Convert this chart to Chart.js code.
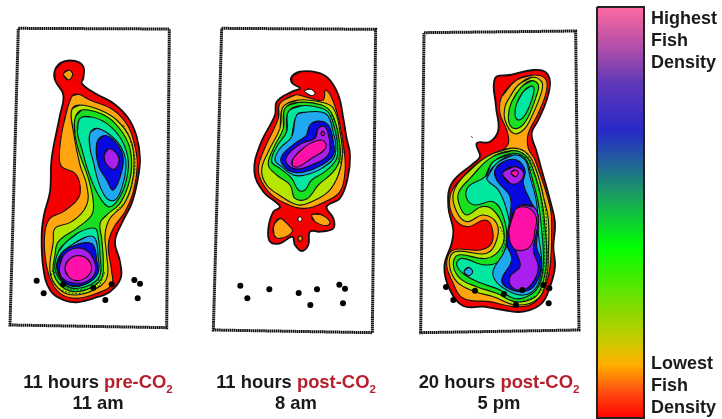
<!DOCTYPE html>
<html>
<head>
<meta charset="utf-8">
<script src="https://cdn.jsdelivr.net/npm/chart.js@4"></script>
<style>
  html, body { margin: 0; padding: 0; background: #fff; }
  #wrap { position: relative; width: 722px; height: 419px; overflow: hidden; filter: blur(0.45px); }
  canvas { position: absolute; left: 0; top: 0; }
  .t { position: absolute; font: bold 18px/22px "Liberation Sans", Arial, sans-serif; color: #1a1a1a; white-space: nowrap; }
  .cap { text-align: center; width: 200px; font-size: 18.4px; line-height: 21px; }
  .cap b { color: #b5202c; }
  .cap sub { font-size: 11.5px; line-height: 0; }
</style>
</head>
<body>
<div id="wrap">
  <canvas id="chart" width="722" height="419"></canvas>
  <div class="t" style="left:651px;top:7px">Highest<br>Fish<br>Density</div>
  <div class="t" style="left:651px;top:352px">Lowest<br>Fish<br>Density</div>
  <div class="t cap" style="left:-2px;top:371px">11 hours <b>pre-CO<sub>2</sub></b><br>11 am</div>
  <div class="t cap" style="left:196px;top:371px">11 hours <b>post-CO<sub>2</sub></b><br>8 am</div>
  <div class="t cap" style="left:399px;top:371px">20 hours <b>post-CO<sub>2</sub></b><br>5 pm</div>
</div>
<script>
// density contour levels, low to high
const levelColors = ["#f40000", "#ffa50f", "#b4e600", "#18e020", "#00e8a0", "#20a8f0", "#0808e0", "#a81ff0", "#ff10a8"];

// colour bar
const barOutline = [[597, 7], [644, 7], [644, 418], [597, 418], [597, 7]];
const barStops = [[0, "#ff6aa0"], [0.09, "#b850a8"], [0.185, "#6038b8"], [0.3, "#2828c8"], [0.39, "#206a90"], [0.47, "#18a858"], [0.585, "#00ff00"], [0.71, "#70e000"], [0.82, "#d0c800"], [0.87, "#ffb000"], [0.935, "#ff5010"], [1, "#ff0000"]];

// panel A, 11 am
const frameA = [[55, 40], [508, 42], [500, 938], [30, 930], [55, 40]];
const contoursA = [
  [0, [[165,165],[185,142],[225,138],[250,155],[250,190],[245,205],[285,235],[340,265],[385,310],[410,365],[420,430],[412,500],[395,565],[365,625],[345,680],[360,740],[362,790],[330,830],[280,850],[230,862],[190,855],[150,825],[130,760],[125,660],[132,600],[150,530],[155,430],[180,300],[190,240],[165,195],[165,165]]],
  [1, [[190,178],[205,165],[218,178],[205,195],[190,178]]],
  [1, [[215,245],[235,238],[270,255],[340,285],[385,335],[405,395],[412,450],[400,530],[375,590],[340,640],[325,690],[335,770],[335,810],[290,835],[230,850],[180,835],[150,790],[135,720],[135,650],[150,610],[190,590],[235,550],[240,510],[225,475],[185,455],[178,420],[190,330],[215,245]]],
  [2, [[215,285],[240,270],[300,285],[350,315],[390,370],[402,440],[395,510],[370,570],[330,610],[315,660],[320,720],[320,790],[280,825],[220,840],[175,820],[150,770],[160,680],[165,640],[215,620],[260,570],[260,510],[240,450],[220,350],[215,285]]],
  [3, [[225,310],[245,285],[300,295],[345,325],[385,385],[395,450],[385,510],[360,565],[320,600],[300,625],[305,670],[310,740],[305,790],[270,820],[220,830],[180,810],[160,770],[165,720],[175,680],[230,640],[275,600],[280,560],[265,490],[240,420],[225,360],[225,310]]],
  [4, [[240,310],[270,305],[320,325],[365,375],[385,440],[375,510],[350,560],[325,575],[295,540],[265,470],[245,400],[232,350],[240,310]]],
  [4, [[200,680],[240,650],[285,640],[295,670],[300,720],[300,780],[270,810],[220,820],[185,800],[165,760],[175,710],[200,680]]],
  [5, [[270,355],[290,340],[330,360],[365,400],[378,450],[365,520],[345,555],[320,550],[295,500],[280,440],[270,400],[270,355]]],
  [5, [[215,690],[260,665],[285,670],[295,730],[295,770],[270,800],[225,815],[190,800],[170,760],[180,720],[215,690]]],
  [6, [[290,385],[310,362],[340,375],[368,420],[365,470],[340,525],[320,495],[295,450],[290,385]]],
  [6, [[172,755],[185,715],[215,695],[255,683],[280,690],[290,735],[293,775],[262,805],[220,812],[188,798],[172,755]]],
  [7, [[313,420],[325,402],[345,410],[357,435],[345,462],[330,458],[315,440],[313,420]]],
  [7, [[178,760],[188,725],[225,700],[262,708],[285,745],[282,780],[250,803],[205,800],[183,785],[178,760]]],
  [8, [[195,760],[205,735],[232,722],[262,732],[275,760],[262,785],[232,797],[205,785],[195,760]]]
];
const fineLinesA = [
  [[165,745],[155,790],[185,825],[240,835],[290,820],[315,770]],
  [[172,740],[165,785],[195,815],[240,825],[285,810],[305,765]],
  [[370,330],[392,380],[405,440],[395,510],[375,560],[345,590]]
];
const fishA = [[110,797],[131,835],[335,808],[403,795],[420,806],[316,855],[413,850],[190,808],[280,818]];

// panel B, 8 am
const frameB = [[50, 40], [512, 43], [502, 953], [25, 945], [50, 40]];
const contoursB = [
  [0, [[260,185],[285,170],[335,172],[370,190],[400,240],[415,310],[425,370],[435,420],[428,490],[405,550],[365,575],[385,610],[385,640],[345,650],[315,650],[310,690],[290,708],[270,690],[262,665],[225,685],[195,680],[190,640],[205,590],[225,575],[175,530],[148,470],[165,390],[210,300],[215,260],[260,230],[285,220],[262,205],[260,185]]],
  [1, [[207,630],[225,610],[250,630],[262,650],[225,670],[207,660],[207,630]]],
  [1, [[320,600],[345,598],[375,620],[365,632],[330,620],[320,600]]],
  [1, [[279,670],[285,662],[292,670],[285,680],[279,670]]],
  [1, [[225,265],[270,240],[300,245],[335,255],[355,255],[362,225],[385,260],[405,330],[418,410],[420,470],[405,530],[360,560],[300,580],[240,565],[190,530],[160,470],[175,410],[220,310],[225,265]]],
  [2, [[235,275],[280,255],[350,262],[385,280],[405,350],[412,420],[400,480],[370,530],[320,560],[280,570],[230,545],[185,510],[170,465],[190,410],[225,340],[235,275]]],
  [3, [[240,280],[280,262],[350,270],[380,295],[400,360],[405,430],[385,470],[340,510],[305,552],[270,550],[255,510],[215,480],[190,450],[205,400],[235,340],[240,280]]],
  [4, [[250,290],[290,272],[350,280],[375,300],[395,370],[395,430],[360,470],[320,495],[300,525],[280,525],[260,490],[225,460],[200,440],[215,395],[245,350],[250,290]]],
  [5, [[275,300],[300,292],[360,295],[382,340],[390,420],[350,460],[300,480],[265,480],[230,455],[210,435],[225,400],[260,365],[275,300]]],
  [6, [[315,330],[340,318],[370,330],[385,380],[385,420],[350,450],[300,470],[260,470],[230,445],[232,420],[270,385],[305,360],[315,330]]],
  [7, [[340,340],[355,332],[368,350],[375,400],[365,425],[320,450],[275,462],[245,445],[248,420],[290,385],[330,370],[340,340]]],
  [8, [[265,430],[300,395],[345,375],[362,385],[358,405],[320,430],[280,455],[262,450],[265,430]]],
  [8, [[348,355],[353,349],[359,355],[353,362],[348,355]]]
];
const holesB = [
  [[298,228],[315,222],[330,235],[318,242],[298,228]],
  [[278,612],[284,605],[291,612],[284,620],[278,612]]
];
const fineLinesB = [
  [[380,300],[402,350],[415,400],[405,450]],
  [[372,310],[392,350],[405,400],[398,440]]
];
const fishB = [[106,812],[127,850],[193,823],[281,834],[336,823],[403,809],[420,821],[316,870],[414,865]];

// panel C, 5 pm
const frameC = [[42, 38], [497, 33], [507, 930], [32, 938], [42, 38]];
const contoursC = [
  [0, [[255,175],[300,165],[370,150],[405,155],[420,185],[410,240],[385,300],[365,340],[380,395],[395,450],[420,540],[435,610],[430,680],[435,740],[420,800],[395,850],[340,875],[280,870],[220,860],[160,858],[120,810],[103,740],[125,670],[130,630],[115,560],[125,490],[190,430],[210,410],[200,370],[240,365],[265,330],[258,260],[255,175]]],
  [1, [[320,180],[370,165],[405,175],[410,210],[385,280],[355,340],[355,385],[375,420],[420,560],[425,640],[420,740],[405,800],[370,850],[310,860],[240,845],[160,835],[125,780],[110,730],[130,690],[210,690],[245,670],[245,620],[225,600],[170,620],[130,590],[120,530],[150,480],[215,420],[270,395],[295,370],[290,330],[270,280],[275,230],[320,180]]],
  [2, [[325,195],[365,172],[395,185],[395,215],[365,290],[340,330],[310,340],[285,300],[285,260],[300,230],[325,195]]],
  [2, [[230,410],[300,385],[345,395],[375,440],[400,530],[415,600],[415,700],[410,770],[385,835],[320,855],[250,830],[195,815],[140,785],[118,730],[135,695],[230,700],[260,660],[260,610],[220,585],[170,605],[140,575],[130,520],[165,465],[230,410]]],
  [3, [[335,200],[365,182],[385,195],[380,225],[355,290],[330,322],[305,322],[295,290],[305,245],[335,200]]],
  [3, [[240,415],[305,392],[345,405],[370,450],[395,540],[405,620],[410,720],[395,800],[370,835],[315,845],[260,820],[200,800],[150,775],[130,735],[145,705],[230,715],[275,680],[280,625],[250,570],[215,560],[170,585],[150,560],[145,520],[180,475],[240,415]]],
  [4, [[340,215],[362,198],[372,205],[365,240],[345,285],[325,300],[315,285],[320,250],[340,215]]],
  [4, [[250,425],[310,400],[345,415],[365,470],[385,550],[395,630],[400,730],[385,800],[350,830],[310,835],[270,810],[215,790],[165,765],[140,735],[155,715],[225,735],[270,720],[290,660],[280,590],[250,545],[195,555],[170,535],[175,500],[225,470],[250,425]]],
  [5, [[260,430],[310,405],[345,420],[360,470],[380,550],[385,640],[395,730],[380,800],[340,825],[290,810],[255,780],[250,750],[280,700],[300,640],[290,570],[265,510],[230,475],[260,430]]],
  [5, [[162,755],[175,742],[188,755],[175,768],[162,755]]],
  [6, [[255,450],[280,425],[320,420],[345,450],[340,490],[360,540],[385,590],[380,680],[395,730],[375,795],[340,815],[295,805],[275,780],[305,720],[290,670],[300,590],[300,530],[260,480],[255,450]]],
  [7, [[278,460],[310,440],[340,455],[330,485],[300,490],[278,460]]],
  [7, [[325,560],[370,560],[385,600],[370,690],[385,740],[370,785],[340,810],[305,800],[300,770],[330,740],[320,700],[300,640],[325,560]]],
  [8, [[297,630],[315,570],[350,562],[378,590],[375,630],[360,680],[320,690],[300,665],[297,630]]],
  [8, [[303,458],[315,450],[325,460],[315,470],[303,458]]]
];
const fineLinesC = [
  [[350,400],[385,470],[405,560],[410,650],[410,740],[395,810],[350,840],[310,848]],
  [[345,410],[378,480],[396,560],[402,650],[402,740],[388,800]],
  [[270,620],[285,660],[275,700]],
  [[184,349],[190,356]]
];
const fishC = [[108,801],[130,840],[195,812],[282,822],[337,810],[418,805],[400,795],[318,855],[416,850]];

const panels = [
  { ox: 0, oy: 15, frame: frameA, contours: contoursA, holes: [], fine: fineLinesA, fish: fishA },
  { ox: 205, oy: 15, frame: frameB, contours: contoursB, holes: holesB, fine: fineLinesB, fish: fishB },
  { ox: 410, oy: 20, frame: frameC, contours: contoursC, holes: [], fine: fineLinesC, fish: fishC }
];

const base = { pointRadius: 0, pointHoverRadius: 0, tension: 0.4 };
const datasets = [];

// a line has no closed spline mode, so overlap the ends to hide the seam
const wrap = pts => [pts[pts.length - 2], ...pts, pts[1]];

panels.forEach(p => {
  // traced at 3x, so scale back to the page
  const toXY = pts => pts.map(([x, y]) => ({ x: p.ox + x / 3, y: p.oy + y / 3 }));

  datasets.push({ ...base, data: toXY(p.frame), tension: 0, borderColor: "#111", borderWidth: 3, borderDash: [1.6, 0.5], fill: false });
  p.contours.forEach(([level, pts]) => {
    datasets.push({ ...base, data: toXY(wrap(pts)), backgroundColor: levelColors[level], borderColor: "#111", borderWidth: level === 0 ? 1.8 : 1.1, fill: "shape" });
  });
  p.holes.forEach(pts => {
    datasets.push({ ...base, data: toXY(wrap(pts)), backgroundColor: "#fff", borderColor: "#111", borderWidth: 1, fill: "shape" });
  });
  p.fine.forEach(pts => {
    datasets.push({ ...base, data: toXY(pts), borderColor: "#0c3a14", borderWidth: 1, borderDash: [2, 1.5], fill: false });
  });
  datasets.push({ data: toXY(p.fish), showLine: false, pointRadius: 3, pointBackgroundColor: "#000", pointBorderWidth: 0 });
});

datasets.push({
  ...base,
  data: barOutline.map(([x, y]) => ({ x, y })),
  tension: 0,
  borderColor: "#222",
  borderWidth: 2,
  fill: "shape",
  backgroundColor: ctx => {
    const g = ctx.chart.ctx.createLinearGradient(0, 7, 0, 418);
    barStops.forEach(([at, c]) => g.addColorStop(at, c));
    return g;
  }
});

// the library paints the first dataset last
datasets.reverse();

new Chart(document.getElementById("chart"), {
  type: "line",
  data: { datasets },
  options: {
    responsive: false,
    animation: false,
    layout: { padding: 0, autoPadding: false },
    events: [],
    plugins: { legend: { display: false }, tooltip: { enabled: false } },
    scales: {
      x: { type: "linear", display: false, min: 0, max: 722 },
      y: { type: "linear", display: false, min: 0, max: 419, reverse: true }
    }
  }
});
</script>
</body>
</html>
